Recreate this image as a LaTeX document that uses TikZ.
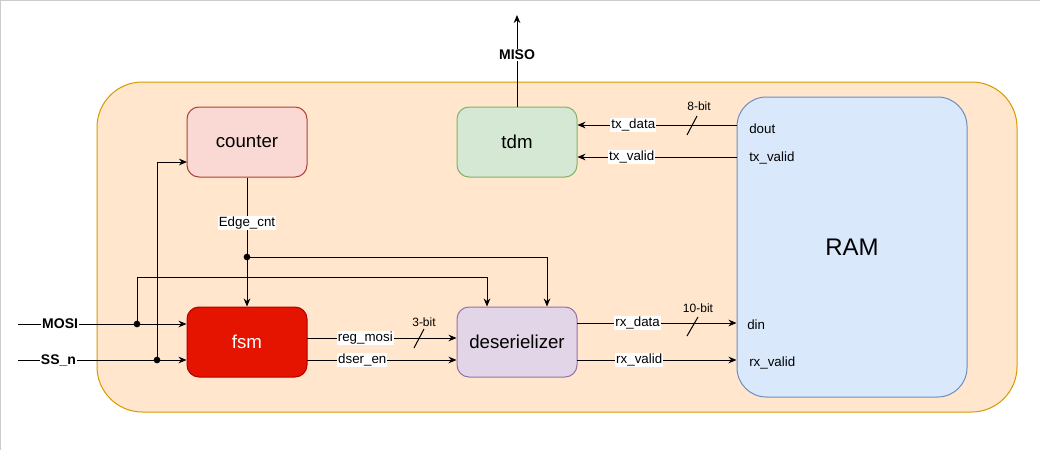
\documentclass[tikz,border=0pt]{standalone}
\usepackage{fontspec}
\setmainfont{Liberation Sans}
\usetikzlibrary{arrows.meta,calc}
\definecolor{contfill}{HTML}{FFE6CC}
\definecolor{contdraw}{HTML}{D79B00}
\definecolor{cntfill}{HTML}{FAD9D5}
\definecolor{cntdraw}{HTML}{AE4132}
\definecolor{tdmfill}{HTML}{D5E8D4}
\definecolor{tdmdraw}{HTML}{82B366}
\definecolor{fsmfill}{HTML}{E51400}
\definecolor{fsmdraw}{HTML}{B20000}
\definecolor{desfill}{HTML}{E1D5E7}
\definecolor{desdraw}{HTML}{9673A6}
\definecolor{ramfill}{HTML}{DAE8FC}
\definecolor{ramdraw}{HTML}{6C8EBF}
\begin{document}
\begin{tikzpicture}[x=0.75pt,y=-0.75pt,
  block/.style={draw, line width=0.75pt, rounded corners=9pt, minimum width=90pt, minimum height=52.5pt, inner sep=0pt, font=\fontsize{14}{16}\selectfont},
  arr/.style={line width=0.75pt, -{Stealth[length=6pt,width=5pt]}},
  wire/.style={line width=0.75pt},
  lbl/.style={fill=white, inner sep=0.8pt, font=\fontsize{10}{12}\selectfont},
  port/.style={anchor=west, inner sep=0pt, font=\fontsize{10}{12}\selectfont},
  bits/.style={inner sep=0pt, font=\fontsize{9}{11}\selectfont},
  sig/.style={fill=white, inner sep=1pt, font=\bfseries\fontsize{10.5}{12}\selectfont},
  dot/.style={circle, fill=black, inner sep=0pt, minimum size=5pt}]
\useasboundingbox (0,0) rectangle (1040,450);
\fill[white] (0,0) rectangle (1040,450);
\draw[black!20, line width=0.75pt] (0.5,450) -- (0.5,0.5) -- (1040,0.5);

% container
\node[draw=contdraw, fill=contfill, line width=0.75pt, rounded corners=34pt,
      minimum width=690pt, minimum height=247.5pt] (sys) at (557,247) {};

% blocks
\node[block, draw=cntdraw, fill=cntfill] (counter) at (247,142) {counter};
\node[block, draw=tdmdraw, fill=tdmfill] (tdm) at (517,142) {tdm};
\node[block, draw=fsmdraw, fill=fsmfill, text=white] (fsm) at (247,342) {fsm};
\node[block, draw=desdraw, fill=desfill] (deser) at (517,342) {deserielizer};
\node[draw=ramdraw, fill=ramfill, line width=0.75pt, rounded corners=22pt,
      minimum width=172.5pt, minimum height=225pt, font=\fontsize{18}{20}\selectfont] (ram) at (852,247) {RAM};

% RAM ports
\node[port] (pdout) at (749,129) {dout};
\node[port] (ptxv) at (749,158) {tx\_valid};
\node[port] (pdin) at (747,325) {din};
\node[port] (prxv) at (749,363) {rx\_valid};

% MISO
\coordinate (misoend) at (517,15);
\draw[arr] (tdm.north) -- node[sig, pos=0.565] (misolbl) {MISO} (misoend);

% tx paths
\coordinate (txd) at (737,125);
\coordinate (txv) at (737,157);
\draw[arr] (txd) -- node[lbl, pos=0.65] (ltxd) {tx\_data} (txd -| tdm.east);
\draw[arr] (txv) -- node[lbl, pos=0.66] (ltxv) {tx\_valid} (txv -| tdm.east);
\draw[wire] (687,135) -- (697,116);
\node[bits] (b8) at (699,106) {8-bit};

% rx paths
\coordinate (rxd) at (577,323);
\coordinate (rxv) at (577,360);
\draw[arr] (rxd) -- node[lbl, pos=0.38] (lrxd) {rx\_data} (rxd -| ram.west);
\draw[arr] (rxv) -- node[lbl, pos=0.39] (lrxv) {rx\_valid} (rxv -| ram.west);
\draw[wire] (687,336) -- (698,317);
\node[bits] (b10) at (698,308) {10-bit};

% fsm -> deserializer
\coordinate (rm) at (307,338);
\coordinate (de) at (307,360);
\draw[arr] (rm) -- node[lbl, pos=0.39] (lrm) {reg\_mosi} (rm -| deser.west);
\draw[arr] (de) -- node[lbl, pos=0.37] (lde) {dser\_en} (de -| deser.west);
\draw[wire] (414,348) -- (424,329);
\node[bits] (b3) at (424,322) {3-bit};

% counter -> fsm
\draw[arr] (counter.south) -- node[lbl, pos=0.354] (lec) {Edge\_cnt} (fsm.north);
\node[dot] (j3) at (247,257) {};
\coordinate (etop) at (547,257);
\draw[arr] (j3.center) -- (etop) -- (etop |- deser.north);

% MOSI
\coordinate (mosiin) at (18,324);
\draw[arr] (mosiin) -- node[sig, pos=0.25] (lmosi) {MOSI} (mosiin -| fsm.west);
\node[dot] (j1) at (137,324) {};
\coordinate (mtop) at (487,277);
\draw[arr] (j1.center) |- (mtop) -- (mtop |- deser.north);

% SS_n
\coordinate (ssin) at (18,360);
\draw[arr] (ssin) -- node[sig, pos=0.24] (lss) {SS\_n} (ssin -| fsm.west);
\node[dot] (j2) at (157,360) {};
\coordinate (cin) at (187,162);
\draw[arr] (j2.center) |- (cin);
\end{tikzpicture}
\end{document}
